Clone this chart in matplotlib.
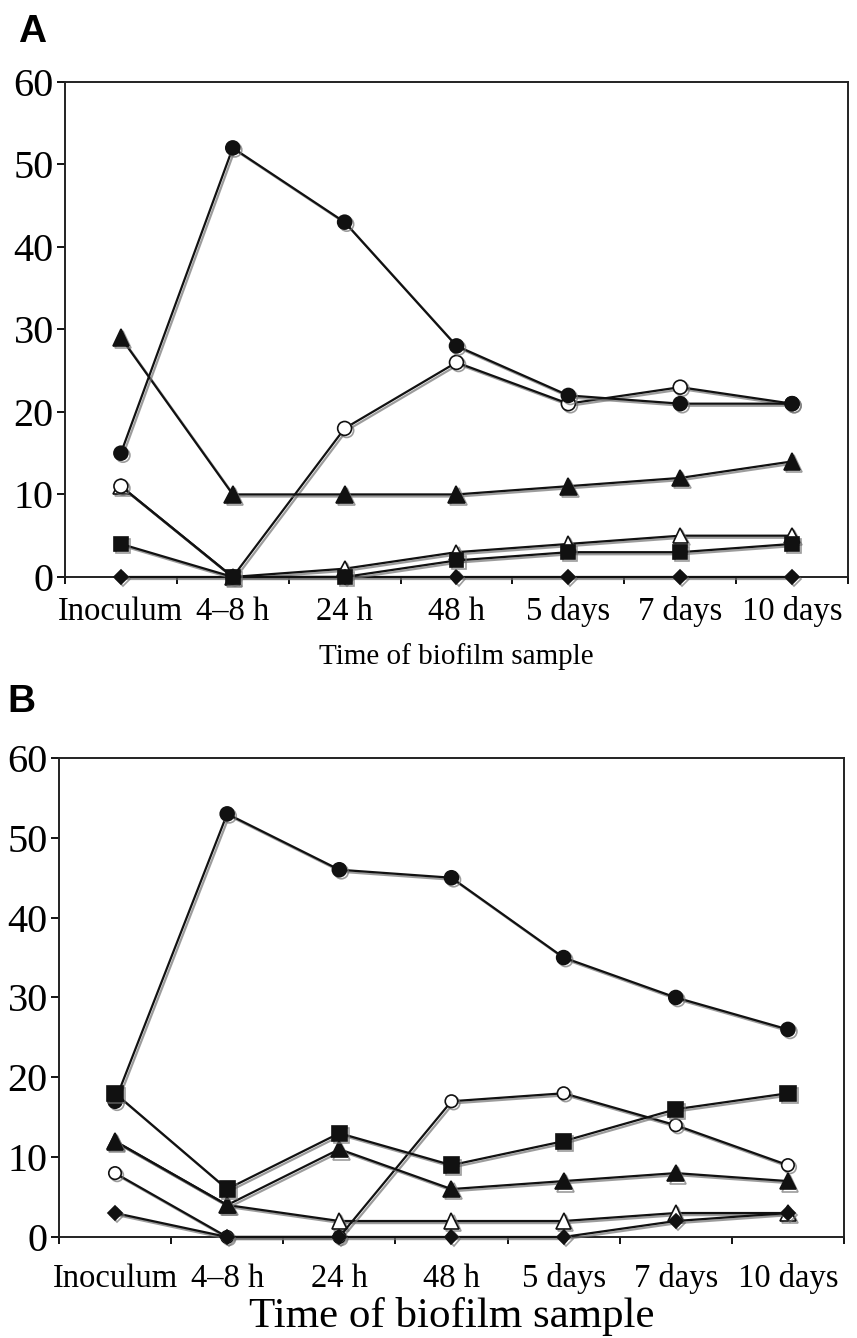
import matplotlib
matplotlib.use('Agg')
from matplotlib import pyplot as plt
import matplotlib.patheffects as pe
import numpy as np

times = ['Inoculum', '4\u20138 h', '24 h', '48 h', '5 days', '7 days', '10 days']

# panel A
a_open_tri = [11, 0, 1, 3, 4, 5, 5]
a_open_circ = [11, 0, 18, 26, 21, 23, 21]
a_diamond = [0, 0, 0, 0, 0, 0, 0]
a_square = [4, 0, 0, 2, 3, 3, 4]
a_fill_tri = [29, 10, 10, 10, 11, 12, 14]
a_fill_circ = [15, 52, 43, 28, 22, 21, 21]

# panel B
b_open_tri = [12, 4, 2, 2, 2, 3, 3]
b_open_circ = [8, 0, 0, 17, 18, 14, 9]
b_diamond = [3, 0, 0, 0, 0, 2, 3]
b_fill_tri = [12, 4, 11, 6, 7, 8, 7]
b_fill_circ = [17, 53, 46, 45, 35, 30, 26]
b_square = [18, 6, 13, 9, 12, 16, 18]

serif = 'Liberation Serif'
shadow = [pe.SimpleLineShadow(offset=(1.5, -1.5), shadow_color='0.45', alpha=0.7), pe.Normal()]

def series(ax, y, marker, ms, filled=True):
    x = np.arange(len(y)) + 0.5
    ax.plot(x, y, color='#111111', lw=1.6, marker=marker, ms=ms,
            mfc='#111111' if filled else 'white', mec='#111111', mew=1.2,
            path_effects=shadow, clip_on=False, zorder=3)

def setup(ax, title_size, tick_pad, title_pad):
    ax.set_xlim(0, 7)
    ax.set_ylim(0, 60)
    ax.set_yticks(range(0, 61, 10))
    ax.set_xticks(range(0, 8))
    ax.set_xticklabels([])
    ax.set_xticks(np.arange(7) + 0.5, minor=True)
    ax.set_xticklabels(times, minor=True, fontfamily=serif, fontsize=23.5)
    ax.tick_params(axis='x', which='minor', length=0, pad=tick_pad)
    ax.tick_params(axis='x', which='major', length=5, width=1.3, direction='out')
    ax.tick_params(axis='y', length=6, width=1.3, direction='out', pad=2)
    for t in ax.get_yticklabels():
        t.set_fontfamily(serif)
        t.set_fontsize(29)
    for s in ax.spines.values():
        s.set_linewidth(1.4)
        s.set_color('#222222')
    ax.set_xlabel('Time of biofilm sample', fontfamily=serif, fontsize=title_size,
                  labelpad=title_pad)

fig = plt.figure(figsize=(8.57, 13.38), dpi=100)

axA = fig.add_axes([0.0758, 0.5688, 0.9137, 0.370])
setup(axA, 21, 14, 11)
series(axA, a_open_tri, '^', 11, filled=False)
series(axA, a_open_circ, 'o', 10, filled=False)
series(axA, a_diamond, 'D', 7)
series(axA, a_square, 's', 10)
series(axA, a_fill_tri, '^', 12)
series(axA, a_fill_circ, 'o', 10)

axB = fig.add_axes([0.0688, 0.0755, 0.916, 0.358])
setup(axB, 31, 19, 2)
series(axB, b_open_tri, '^', 11, filled=False)
series(axB, b_open_circ, 'o', 9, filled=False)
series(axB, b_diamond, 'D', 7)
series(axB, b_fill_tri, '^', 12)
series(axB, b_fill_circ, 'o', 10)
series(axB, b_square, 's', 11)

fig.text(18 / 857, 1 - 14 / 1338, 'A', fontfamily='Liberation Sans', fontweight='bold',
         fontsize=28, va='top', ha='left')
fig.text(7 / 857, 1 - 684 / 1338, 'B', fontfamily='Liberation Sans', fontweight='bold',
         fontsize=28, va='top', ha='left')

fig.savefig('out.png', dpi=100)
